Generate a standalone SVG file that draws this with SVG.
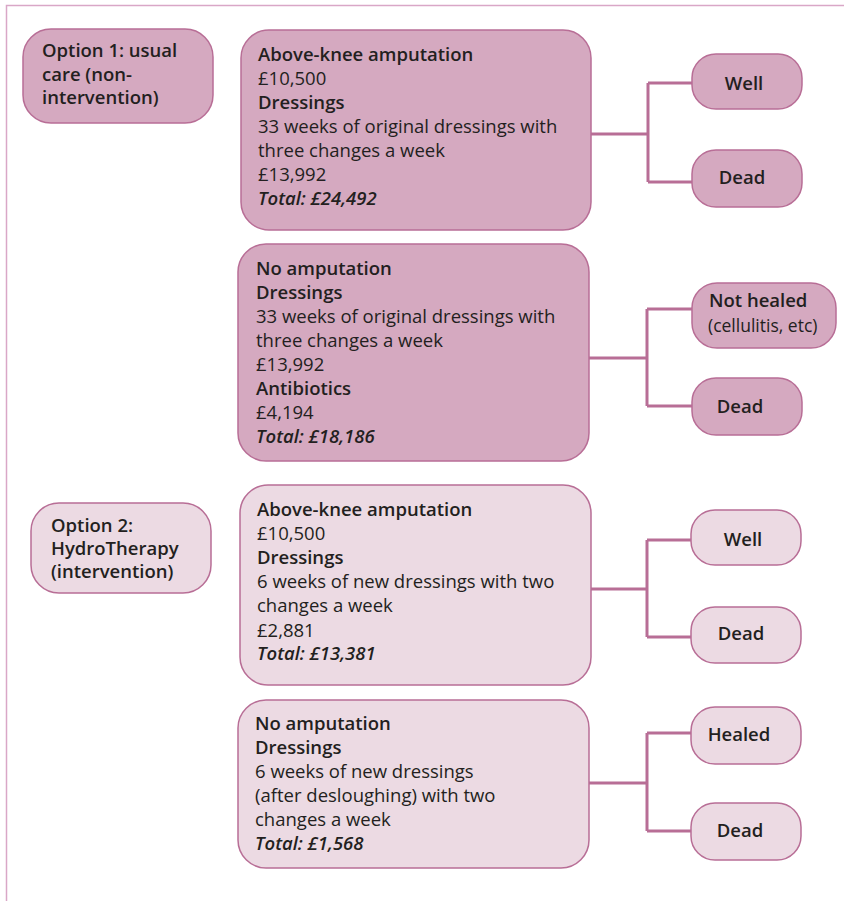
<svg xmlns="http://www.w3.org/2000/svg" width="844" height="901" viewBox="0 0 844 901">
<style>
text{font-family:"Open Sans","Liberation Sans",sans-serif;font-size:18.5px;fill:#231f20}
.b{font-weight:600}
.i{font-weight:600;font-style:italic}
.s{font-size:17.5px}
.dk{fill:#d5a9c0;stroke:#b86e96;stroke-width:1.5}
.lt{fill:#ecdae3;stroke:#b86e96;stroke-width:1.5}
.c{fill:none;stroke:#b86e96;stroke-width:3}
.m{text-anchor:middle}
</style>
<rect width="844" height="901" fill="#ffffff"/>
<path d="M844 5.5 H6.5 V901" fill="none" stroke="#d9a7c7" stroke-width="1.5"/>
<g id="connectors">
<path class="c" d="M591 134 H648 M648 83 V182 M648 83 H692 M648 182 H692"/>
<path class="c" d="M589 358 H647 M647 309 V406 M647 309 H692 M647 406 H692"/>
<path class="c" d="M591 589 H647 M647 540 V637 M647 540 H691 M647 637 H691"/>
<path class="c" d="M589 783 H647 M647 733 V831 M647 733 H691 M647 831 H691"/>
</g>
<g id="option1">
<rect class="dk" x="23" y="29" width="190" height="94" rx="28"/>
<text class="b" x="42" y="57">Option 1: usual</text>
<text class="b" x="42" y="81">care (non-</text>
<text class="b" x="42" y="104">intervention)</text>
</g>
<g id="opt1-amputation">
<rect class="dk" x="241" y="30" width="350" height="200" rx="28"/>
<text class="b" x="258" y="61">Above-knee amputation</text>
<text x="258" y="85">£10,500</text>
<text class="b" x="258" y="109">Dressings</text>
<text x="258" y="133">33 weeks of original dressings with</text>
<text x="258" y="157">three changes a week</text>
<text x="258" y="181">£13,992</text>
<text class="i" x="258" y="205">Total: £24,492</text>
</g>
<g id="opt1-well">
<rect class="dk" x="692" y="54" width="110" height="55" rx="24"/>
<text class="b m" x="744" y="90">Well</text>
</g>
<g id="opt1-dead1">
<rect class="dk" x="692" y="150" width="110" height="57" rx="24"/>
<text class="b m" x="742" y="184">Dead</text>
</g>
<g id="opt1-noamputation">
<rect class="dk" x="238" y="244" width="351" height="217" rx="28"/>
<text class="b" x="256" y="275">No amputation</text>
<text class="b" x="256" y="299">Dressings</text>
<text x="256" y="323">33 weeks of original dressings with</text>
<text x="256" y="347">three changes a week</text>
<text x="256" y="371">£13,992</text>
<text class="b" x="256" y="395">Antibiotics</text>
<text x="256" y="419">£4,194</text>
<text class="i" x="256" y="443">Total: £18,186</text>
</g>
<g id="opt1-notheal">
<rect class="dk" x="692" y="283" width="144" height="65" rx="25"/>
<text class="b" x="709" y="307">Not healed</text>
<text class="s" x="708" y="332">(cellulitis, etc)</text>
</g>
<g id="opt1-dead2">
<rect class="dk" x="692" y="378" width="110" height="57" rx="24"/>
<text class="b m" x="740" y="413">Dead</text>
</g>
<g id="option2">
<rect class="lt" x="31" y="503" width="180" height="90" rx="28"/>
<text class="b" x="51" y="532">Option 2:</text>
<text class="b" x="51" y="555">HydroTherapy</text>
<text class="b" x="51" y="578">(intervention)</text>
</g>
<g id="opt2-amputation">
<rect class="lt" x="240" y="485" width="351" height="200" rx="28"/>
<text class="b" x="257" y="516">Above-knee amputation</text>
<text x="257" y="540">£10,500</text>
<text class="b" x="257" y="564">Dressings</text>
<text x="257" y="588">6 weeks of new dressings with two</text>
<text x="257" y="612">changes a week</text>
<text x="257" y="637">£2,881</text>
<text class="i" x="257" y="660">Total: £13,381</text>
</g>
<g id="opt2-well">
<rect class="lt" x="691" y="510" width="110" height="55" rx="24"/>
<text class="b m" x="743" y="546">Well</text>
</g>
<g id="opt2-dead1">
<rect class="lt" x="691" y="607" width="110" height="56" rx="24"/>
<text class="b m" x="741" y="640">Dead</text>
</g>
<g id="opt2-noamputation">
<rect class="lt" x="238" y="700" width="351" height="168" rx="28"/>
<text class="b" x="255" y="730">No amputation</text>
<text class="b" x="255" y="754">Dressings</text>
<text x="255" y="778">6 weeks of new dressings</text>
<text x="255" y="802">(after desloughing) with two</text>
<text x="255" y="826">changes a week</text>
<text class="i" x="255" y="850">Total: £1,568</text>
</g>
<g id="opt2-healed">
<rect class="lt" x="691" y="707" width="110" height="57" rx="24"/>
<text class="b m" x="739" y="741">Healed</text>
</g>
<g id="opt2-dead2">
<rect class="lt" x="691" y="803" width="110" height="57" rx="24"/>
<text class="b m" x="740" y="837">Dead</text>
</g>
</svg>
